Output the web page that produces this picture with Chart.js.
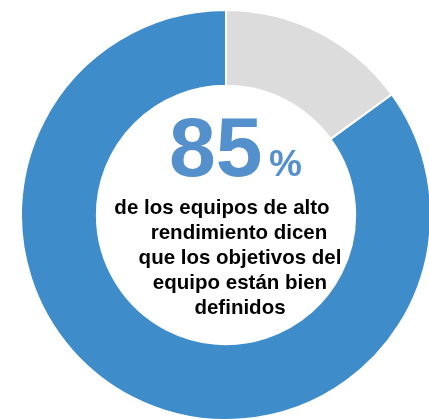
<!DOCTYPE html>
<html>
<head>
<meta charset="utf-8">
<script src="https://cdn.jsdelivr.net/npm/chart.js@4/dist/chart.umd.min.js"></script>
<style>
  html, body { margin: 0; padding: 0; background: #fff; overflow: hidden; width: 429px; height: 419px; }
  #wrap { position: absolute; left: 20px; top: 9px; width: 412px; height: 412px; }
</style>
</head>
<body>
<div id="wrap"><canvas id="chartDona" width="412" height="412"></canvas></div>
<script>
const categorias = ['Otros', 'Objetivos bien definidos'];
const valores = [15, 85];
const porcentaje = '85';
const lineasTexto = [
    'de los equipos de alto',
    'rendimiento dicen',
    'que los objetivos del',
    'equipo están bien',
    'definidos'
];

const cores = {
    azul: '#3f8cca',
    azulTexto: '#5490cc',
    gris: '#dcdcdc'
};

const fuente = '"Liberation Sans", Arial, Helvetica, sans-serif';

// texto del centro, relativo al centro de la dona
const textoCentro = {
    id: 'textoCentro',
    afterDraw(chart) {
        const meta = chart.getDatasetMeta(0);
        if (!meta.data.length) return;
        const cx = meta.data[0].x;
        const cy = meta.data[0].y;
        const ctx = chart.ctx;
        ctx.save();
        ctx.textBaseline = 'alphabetic';

        ctx.fillStyle = cores.azulTexto;
        ctx.textAlign = 'left';
        ctx.font = 'bold 84px ' + fuente;
        ctx.fillText(porcentaje, cx - 57, cy - 39);
        ctx.font = 'bold 37px ' + fuente;
        ctx.fillText('%', cx + 43, cy - 39);

        ctx.fillStyle = '#000';
        ctx.textAlign = 'center';
        ctx.font = 'bold 20.5px ' + fuente;
        const offX = [-4, 13, 14, 14, 14];
        lineasTexto.forEach((l, i) => {
            ctx.fillText(l, cx + offX[i], cy - 1 + i * 25);
        });
        ctx.restore();
    }
};

new Chart(document.getElementById('chartDona'), {
    type: 'doughnut',
    data: {
        labels: categorias,
        datasets: [{
            data: valores,
            backgroundColor: [cores.gris, cores.azul],
            borderColor: '#ffffff',
            borderWidth: 2,
            hoverOffset: 0
        }]
    },
    options: {
        responsive: false,
        animation: false,
        cutout: '63%',
        layout: { padding: 0 },
        plugins: {
            legend: { display: false },
            tooltip: { enabled: false }
        }
    },
    plugins: [textoCentro]
});
</script>
</body>
</html>
